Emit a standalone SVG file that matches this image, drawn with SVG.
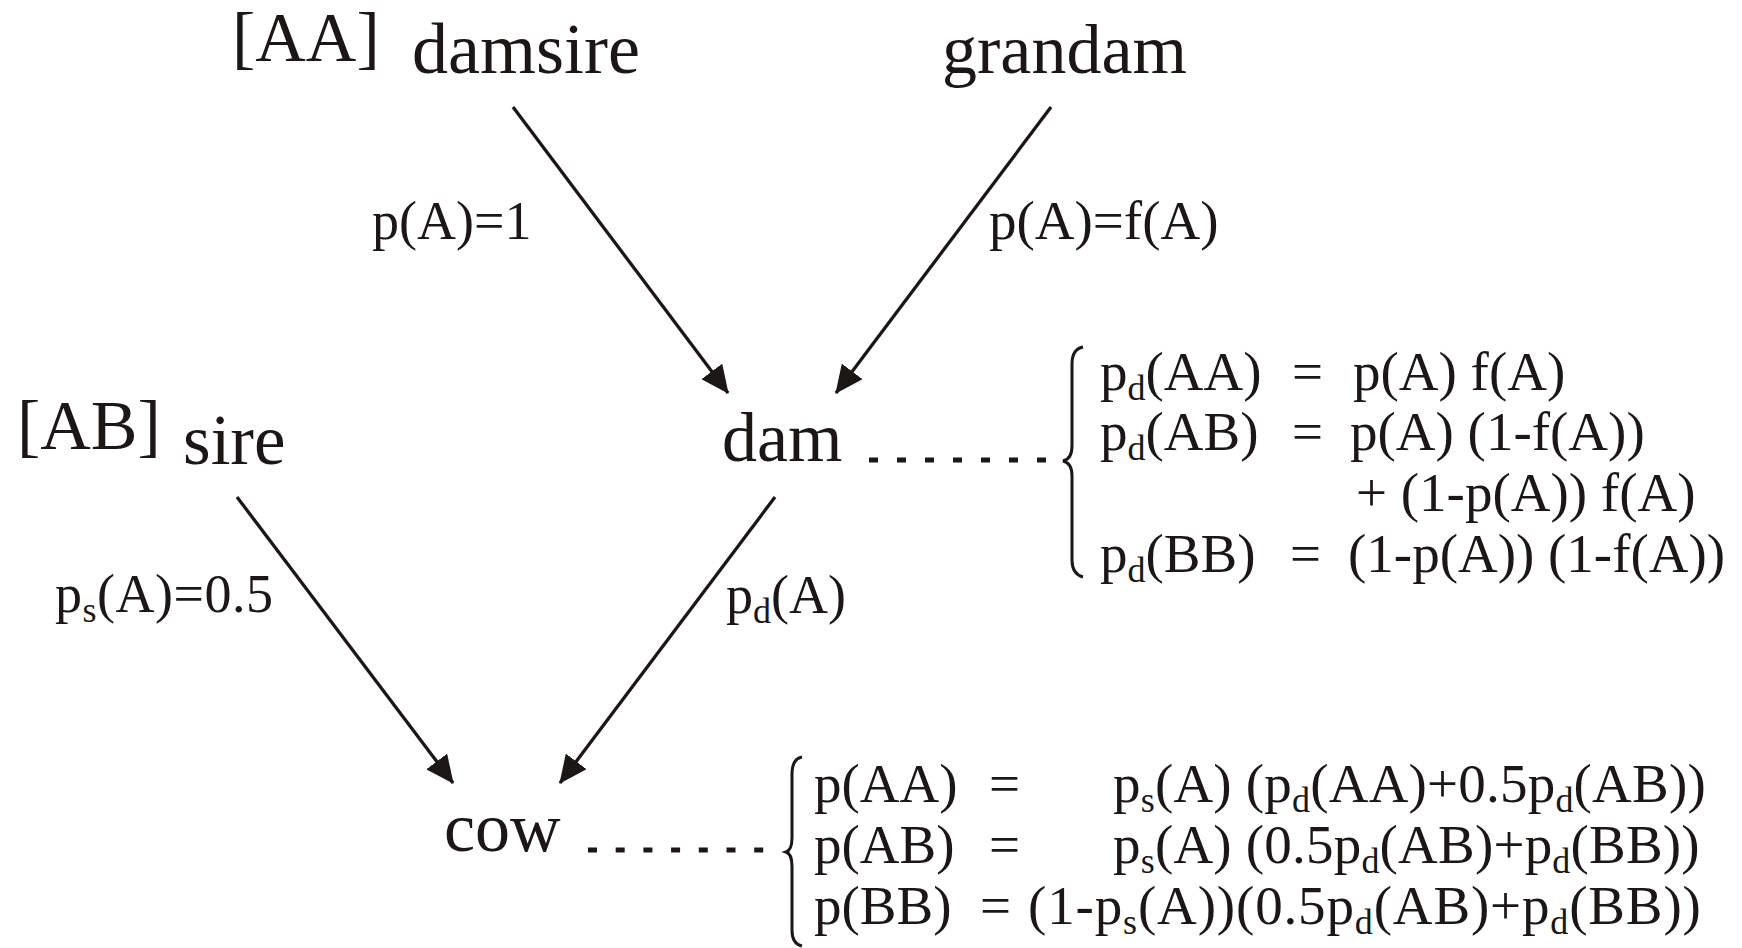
<svg xmlns="http://www.w3.org/2000/svg" width="1742" height="948" viewBox="0 0 1742 948">
<style>
text{font-family:"Liberation Serif","Times New Roman",serif;fill:#1a1716}
.n{font-size:70px}
.l{font-size:54px}
.e{font-size:55px}
.sub{font-size:36px}
.edge{stroke:#1a1716;stroke-width:3.3;fill:none;marker-end:url(#ah)}
.dots{stroke:#1a1716;stroke-width:5;fill:none}
.brace{stroke:#1a1716;stroke-width:3;fill:none}
</style>
<defs>
<marker id="ah" markerUnits="userSpaceOnUse" markerWidth="28" markerHeight="26" refX="27" refY="13" orient="auto">
<path d="M0,0 L28,13 L0,26 z" fill="#1a1716"/>
</marker>
</defs>
<rect width="1742" height="948" fill="#fff"/>
<g id="connectors">
<line class="edge" x1="513" y1="107" x2="728" y2="393"/>
<line class="edge" x1="1051" y1="107" x2="836" y2="393"/>
<line class="edge" x1="237" y1="497" x2="453" y2="783"/>
<line class="edge" x1="775" y1="497" x2="560" y2="783"/>
<line class="dots" x1="869" y1="460" x2="1047" y2="460" stroke-dasharray="9 19"/>
<line class="dots" x1="588" y1="850" x2="764" y2="850" stroke-dasharray="9 18.7"/>
<text class="l" x="372" y="239">p(A)=1</text>
<text class="l" x="989" y="239" style="font-size:55px">p(A)=f(A)</text>
<text class="l" x="55" y="612" style="letter-spacing:0.5px">p<tspan class="sub" dy="10">s</tspan><tspan dy="-10">(A)=0.5</tspan></text>
<text class="l" x="726" y="613">p<tspan class="sub" dy="10">d</tspan><tspan dy="-10">(A)</tspan></text>
</g>
<g id="damsire">
<text class="n" x="232" y="61">[AA]</text>
<text class="n" x="412" y="73" style="font-size:72px">damsire</text>
</g>
<g id="grandam">
<text class="n" x="942" y="73">grandam</text>
</g>
<g id="sire">
<text class="n" x="17" y="449">[AB]</text>
<text class="n" x="183" y="464" style="font-size:71px">sire</text>
</g>
<g id="dam">
<text class="n" x="722" y="461">dam</text>
</g>
<g id="cow">
<text class="n" x="444" y="851">cow</text>
</g>
<g id="dam-equations">
<path class="brace" d="M1083,347 Q1072,349 1072,364 L1072,446 Q1072,459 1063,461 Q1072,463 1072,476 L1072,560 Q1072,574 1083,577"/>
<text class="e" x="1100" y="390">p<tspan class="sub" dy="10">d</tspan><tspan dy="-10">(AA)</tspan></text>
<text class="e" x="1292" y="390">=</text>
<text class="e" x="1353" y="390">p(A) f(A)</text>
<text class="e" x="1100" y="450">p<tspan class="sub" dy="10">d</tspan><tspan dy="-10">(AB)</tspan></text>
<text class="e" x="1292" y="450">=</text>
<text class="e" x="1350" y="450">p(A) (1-f(A))</text>
<text class="e" x="1356" y="511">+ (1-p(A)) f(A)</text>
<text class="e" x="1100" y="572">p<tspan class="sub" dy="10">d</tspan><tspan dy="-10">(BB)</tspan></text>
<text class="e" x="1290" y="572">=</text>
<text class="e" x="1348" y="572">(1-p(A)) (1-f(A))</text>
</g>
<g id="cow-equations">
<path class="brace" d="M802,757 Q792,759 792,774 L792,838 Q792,850 786,852 Q792,854 792,866 L792,930 Q792,944 802,946"/>
<text class="e" x="814" y="802">p(AA)</text>
<text class="e" x="989" y="802">=</text>
<text class="e" x="1113" y="802" style="letter-spacing:0.2px">p<tspan class="sub" dy="10">s</tspan><tspan dy="-10">(A) (p</tspan><tspan class="sub" dy="10">d</tspan><tspan dy="-10">(AA)+0.5p</tspan><tspan class="sub" dy="10">d</tspan><tspan dy="-10">(AB))</tspan></text>
<text class="e" x="814" y="863">p(AB)</text>
<text class="e" x="989" y="863">=</text>
<text class="e" x="1113" y="863" style="letter-spacing:0.2px">p<tspan class="sub" dy="10">s</tspan><tspan dy="-10">(A) (0.5p</tspan><tspan class="sub" dy="10">d</tspan><tspan dy="-10">(AB)+p</tspan><tspan class="sub" dy="10">d</tspan><tspan dy="-10">(BB))</tspan></text>
<text class="e" x="814" y="924">p(BB)</text>
<text class="e" x="980" y="924">=</text>
<text class="e" x="1028" y="924" style="letter-spacing:0.85px">(1-p<tspan class="sub" dy="10">s</tspan><tspan dy="-10">(A))(0.5p</tspan><tspan class="sub" dy="10">d</tspan><tspan dy="-10">(AB)+p</tspan><tspan class="sub" dy="10">d</tspan><tspan dy="-10">(BB))</tspan></text>
</g>
</svg>
